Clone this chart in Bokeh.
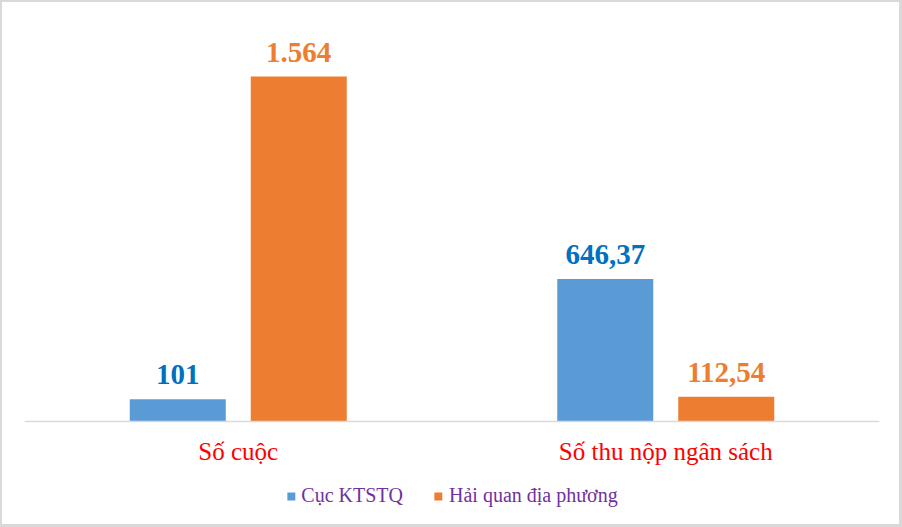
from bokeh.plotting import figure
from bokeh.models import (FactorRange, ColumnDataSource, LabelSet, Legend, LegendItem,
                          Range1d, Span)
from bokeh.transform import dodge
from bokeh.embed import file_html
from bokeh.resources import INLINE

categories = ["Số cuộc", "Số thu nộp ngân sách"]
series_names = ["Cục KTSTQ", "Hải quan địa phương"]
cuc_ktstq = [101, 646.37]
hai_quan = [1564, 112.54]
cuc_labels = ["101", "646,37"]
hai_quan_labels = ["1.564", "112,54"]

src = ColumnDataSource(dict(cat=categories, a=cuc_ktstq, b=hai_quan,
                            la=cuc_labels, lb=hai_quan_labels, zero=[0, 0]))

p = figure(width=902, height=527, x_range=FactorRange(*categories),
           y_range=Range1d(-489.6, 1863.2), output_backend="svg", toolbar_location=None,
           min_border_left=22, min_border_right=25, min_border_top=8,
           min_border_bottom=0)
p.styles = {"border-style": "solid", "border-color": "#D9D9D9",
            "border-width": "2px 3px 3px 2px"}

OFF = 0.1415
W = 0.2246
r1 = p.vbar(x=dodge('cat', -OFF, range=p.x_range), top='a', bottom='zero', width=W,
            source=src, fill_color="#5B9BD5", line_color=None)
r2 = p.vbar(x=dodge('cat', OFF, range=p.x_range), top='b', bottom='zero', width=W,
            source=src, fill_color="#ED7D31", line_color=None)

# baseline (category axis line)
p.add_layout(Span(location=0, dimension="width", line_color="#D9D9D9", line_width=1.5))

for xo, col, txt, color in [(-OFF, 'a', 'la', "#0070C0"), (OFF, 'b', 'lb', "#ED7D31")]:
    p.add_layout(LabelSet(x=dodge('cat', xo, range=p.x_range), y=col, text=txt, source=src,
                          y_offset=15, text_align="center", text_baseline="alphabetic",
                          text_font="Liberation Serif", text_font_style="bold",
                          text_font_size="29px", text_color=color))

# category labels under the baseline
p.add_layout(LabelSet(x='cat', y='zero', text='cat', source=src, y_offset=-38,
                      text_align="center", text_baseline="alphabetic",
                      text_font="Liberation Serif", text_font_size="25px",
                      text_color="#FF0000"))

p.xgrid.grid_line_color = None
p.ygrid.grid_line_color = None
p.xaxis.visible = False
p.yaxis.visible = False
p.outline_line_color = None

legend = Legend(items=[LegendItem(label=series_names[0], renderers=[r1]),
                       LegendItem(label=series_names[1], renderers=[r2])],
                orientation="horizontal", location="bottom_center",
                glyph_width=10, glyph_height=10, label_standoff=6, spacing=30,
                label_text_font="Liberation Serif", label_text_font_size="20px",
                label_text_color="#7030A0", border_line_color=None,
                background_fill_alpha=0, padding=0, margin=22)
p.add_layout(legend)

open("out.html", "w").write(file_html(p, INLINE))
